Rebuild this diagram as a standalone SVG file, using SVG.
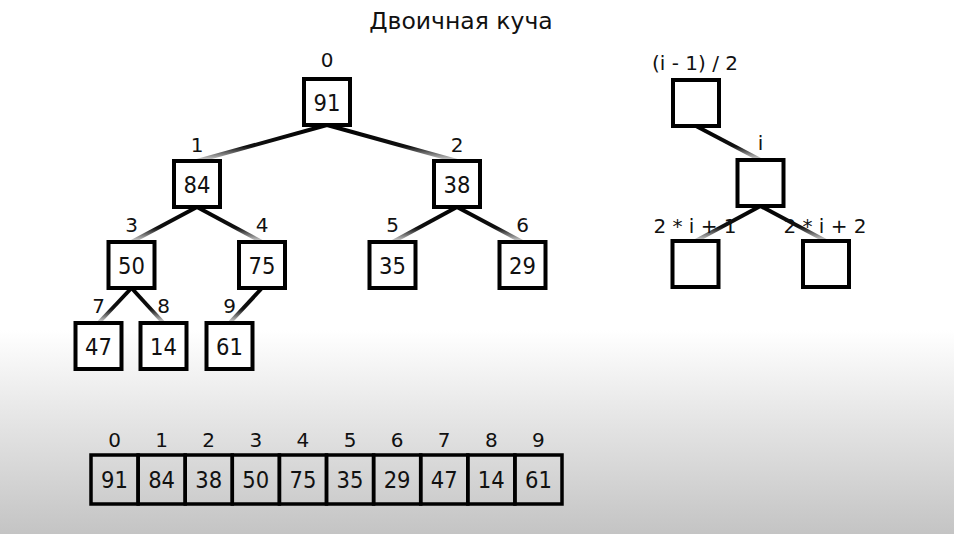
<svg xmlns="http://www.w3.org/2000/svg" width="954" height="534" viewBox="0 0 954 534">
<defs>
<linearGradient id="bg" gradientUnits="userSpaceOnUse" x1="0" y1="330" x2="0" y2="534">
<stop offset="0" stop-color="#ffffff"/>
<stop offset="1" stop-color="#c4c4c4"/>
</linearGradient>
<linearGradient id="fade" x1="0" y1="0" x2="0" y2="1">
<stop offset="0" stop-color="#000"/>
<stop offset="0.6" stop-color="#111"/>
<stop offset="1" stop-color="#e0e0e0"/>
</linearGradient>
<style>
.box{fill:#fff;stroke:#000;stroke-width:4}
.cell{fill:none;stroke:#000;stroke-width:3.5}
.edge{stroke:url(#fade);stroke-width:4;fill:none}
.num{font-family:"DejaVu Sans Condensed","DejaVu Sans",sans-serif;font-stretch:condensed;font-size:23.5px;text-anchor:middle;fill:#111}
.idx{font-family:"DejaVu Sans",sans-serif;font-size:20px;text-anchor:middle;fill:#111}
.title{font-family:"DejaVu Sans",sans-serif;font-size:23.5px;text-anchor:middle;fill:#111}
</style>
</defs>
<rect x="0" y="0" width="954" height="534" fill="url(#bg)"/>
<text class="title" x="461" y="29">Двоичная куча</text>
<g id="connectors">
<line class="edge" x1="327" y1="125" x2="197" y2="161"/>
<line class="edge" x1="327" y1="125" x2="457" y2="161"/>
<line class="edge" x1="197" y1="207" x2="131.5" y2="242"/>
<line class="edge" x1="197" y1="207" x2="262" y2="242"/>
<line class="edge" x1="457" y1="207" x2="392.5" y2="242"/>
<line class="edge" x1="457" y1="207" x2="522.5" y2="242"/>
<line class="edge" x1="131.5" y1="288" x2="98.5" y2="323"/>
<line class="edge" x1="131.5" y1="288" x2="163.5" y2="323"/>
<line class="edge" x1="262" y1="288" x2="229.5" y2="323"/>
<line class="edge" x1="696" y1="126" x2="760.5" y2="160"/>
<line class="edge" x1="760.5" y1="206" x2="695.5" y2="241"/>
<line class="edge" x1="760.5" y1="206" x2="826" y2="241"/>
</g>
<g id="n0"><text class="idx" x="327" y="67">0</text><rect class="box" x="304" y="79" width="46" height="46"/><text class="num" x="327" y="110.5">91</text></g>
<g id="n1"><text class="idx" x="197" y="152">1</text><rect class="box" x="174" y="161" width="46" height="46"/><text class="num" x="197" y="192.5">84</text></g>
<g id="n2"><text class="idx" x="457" y="152">2</text><rect class="box" x="434" y="161" width="46" height="46"/><text class="num" x="457" y="192.5">38</text></g>
<g id="n3"><text class="idx" x="131.5" y="232">3</text><rect class="box" x="108.5" y="242" width="46" height="46"/><text class="num" x="131.5" y="273.5">50</text></g>
<g id="n4"><text class="idx" x="262" y="232">4</text><rect class="box" x="239" y="242" width="46" height="46"/><text class="num" x="262" y="273.5">75</text></g>
<g id="n5"><text class="idx" x="392.5" y="232">5</text><rect class="box" x="369.5" y="242" width="46" height="46"/><text class="num" x="392.5" y="273.5">35</text></g>
<g id="n6"><text class="idx" x="522.5" y="232">6</text><rect class="box" x="499.5" y="242" width="46" height="46"/><text class="num" x="522.5" y="273.5">29</text></g>
<g id="n7"><text class="idx" x="98.5" y="313">7</text><rect class="box" x="75.5" y="323" width="46" height="46"/><text class="num" x="98.5" y="354.5">47</text></g>
<g id="n8"><text class="idx" x="163.5" y="313">8</text><rect class="box" x="140.5" y="323" width="46" height="46"/><text class="num" x="163.5" y="354.5">14</text></g>
<g id="n9"><text class="idx" x="229.5" y="313">9</text><rect class="box" x="206.5" y="323" width="46" height="46"/><text class="num" x="229.5" y="354.5">61</text></g>
<g id="f-parent"><text class="idx" x="695" y="70">(i - 1) / 2</text><rect class="box" x="673" y="80" width="46" height="46"/></g>
<g id="f-i"><text class="idx" x="760.5" y="150">i</text><rect class="box" x="737.5" y="160" width="46" height="46"/></g>
<g id="f-left"><text class="idx" x="695" y="233">2 * i + 1</text><rect class="box" x="672.5" y="241" width="46" height="46"/></g>
<g id="f-right"><text class="idx" x="825" y="233">2 * i + 2</text><rect class="box" x="803" y="241" width="46" height="46"/></g>
<g id="array">
<g id="a0"><text class="idx" x="114.5" y="447">0</text><rect class="cell" x="91" y="455" width="47.1" height="49"/><text class="num" x="114.5" y="488">91</text></g>
<g id="a1"><text class="idx" x="161.6" y="447">1</text><rect class="cell" x="138.1" y="455" width="47.1" height="49"/><text class="num" x="161.6" y="488">84</text></g>
<g id="a2"><text class="idx" x="208.7" y="447">2</text><rect class="cell" x="185.2" y="455" width="47.1" height="49"/><text class="num" x="208.7" y="488">38</text></g>
<g id="a3"><text class="idx" x="255.8" y="447">3</text><rect class="cell" x="232.3" y="455" width="47.1" height="49"/><text class="num" x="255.8" y="488">50</text></g>
<g id="a4"><text class="idx" x="302.9" y="447">4</text><rect class="cell" x="279.4" y="455" width="47.1" height="49"/><text class="num" x="302.9" y="488">75</text></g>
<g id="a5"><text class="idx" x="350" y="447">5</text><rect class="cell" x="326.5" y="455" width="47.1" height="49"/><text class="num" x="350" y="488">35</text></g>
<g id="a6"><text class="idx" x="397.1" y="447">6</text><rect class="cell" x="373.6" y="455" width="47.1" height="49"/><text class="num" x="397.1" y="488">29</text></g>
<g id="a7"><text class="idx" x="444.2" y="447">7</text><rect class="cell" x="420.7" y="455" width="47.1" height="49"/><text class="num" x="444.2" y="488">47</text></g>
<g id="a8"><text class="idx" x="491.3" y="447">8</text><rect class="cell" x="467.8" y="455" width="47.1" height="49"/><text class="num" x="491.3" y="488">14</text></g>
<g id="a9"><text class="idx" x="538.4" y="447">9</text><rect class="cell" x="514.9" y="455" width="47.1" height="49"/><text class="num" x="538.4" y="488">61</text></g>
</g>
</svg>
